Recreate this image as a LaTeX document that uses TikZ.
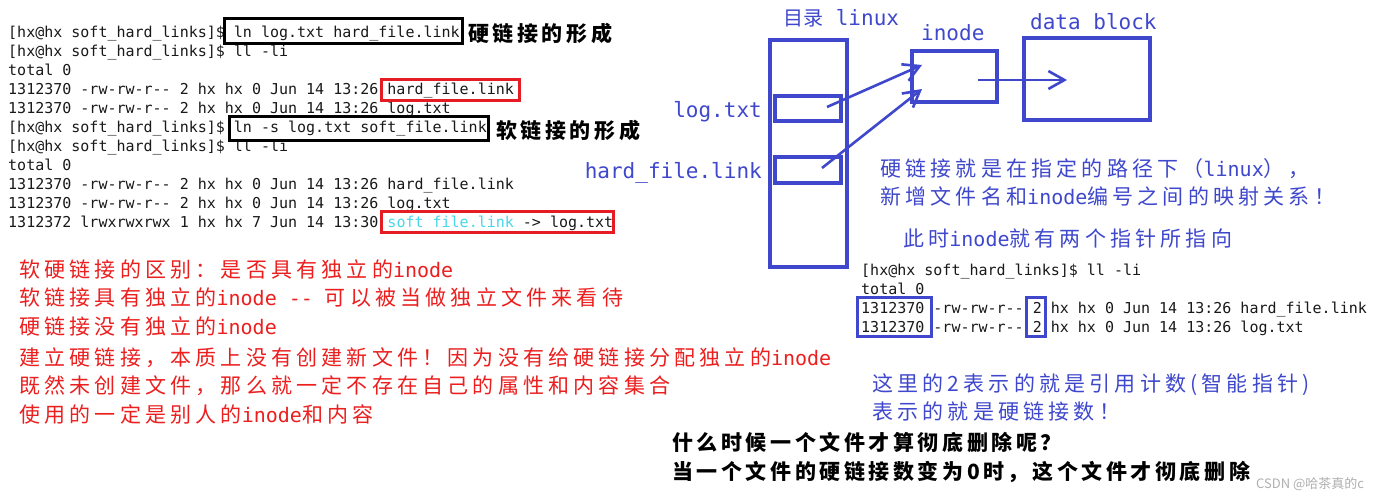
\documentclass[tikz,border=0pt]{standalone}
\usepackage{fontspec}
\setmainfont{DejaVu Sans Mono}
\newfontfamily\mono{DejaVu Sans Mono}
\newfontfamily\cjk[LetterSpace=17]{Noto Sans CJK SC}
\newfontfamily\cjkwide[LetterSpace=20]{Noto Sans CJK SC}
\newfontfamily\cjkplain{Noto Sans CJK SC}
\newcommand\latn[1]{{\mono\fontsize{20}{24}\selectfont #1}}
\definecolor{termfg}{RGB}{25,25,25}
\definecolor{boxred}{RGB}{230,28,36}
\definecolor{softcyan}{RGB}{70,215,235}
\definecolor{paintblue}{RGB}{63,72,204}
\definecolor{notered}{RGB}{236,30,30}
\definecolor{wmgray}{RGB}{175,175,175}
\usetikzlibrary{arrows.meta}
\tikzset{
  term/.style={anchor=base west, inner sep=0pt, text=termfg, font=\mono\fontsize{15}{18}\selectfont},
  redtext/.style={anchor=base west, inner sep=0pt, text=notered, font=\cjkwide\fontsize{21}{25}\selectfont},
  bluetext/.style={anchor=base west, inner sep=0pt, text=paintblue, font=\cjkwide\fontsize{21}{25}\selectfont},
  blacktext/.style={anchor=base west, inner sep=0pt, text=black, font=\cjk\bfseries\fontsize{21}{25}\selectfont},
  bluelabel/.style={inner sep=0pt, text=paintblue, font=\mono\fontsize{21}{25}\selectfont},
  blackframe/.style={draw=black, line width=3pt, inner sep=0pt},
  redframe/.style={draw=boxred, line width=3pt, inner sep=0pt},
  blueframe/.style={draw=paintblue, line width=3.3pt, inner sep=0pt},
  bluearrow/.style={draw=paintblue, line width=2.6pt, -{Straight Barb[length=16pt,width=18pt,line width=2.6pt]}},
}
\begin{document}
\begin{tikzpicture}[x=1pt,y=-1pt]
\useasboundingbox[fill=white] (0,0) rectangle (1375,499);

% ---- left terminal ----
\node[term] (t1) at (8,37.5) {[hx@hx soft\_hard\_links]\$ ln log.txt hard\_file.link};
\node[term] (t2) at (8,56.5) {[hx@hx soft\_hard\_links]\$ ll -li};
\node[term] (t3) at (8,75.5) {total 0};
\node[term] (t4) at (8,94.5) {1312370 -rw-rw-r-- 2 hx hx 0 Jun 14 13:26 hard\_file.link};
\node[term] (t5) at (8,113.5) {1312370 -rw-rw-r-- 2 hx hx 0 Jun 14 13:26 log.txt};
\node[term] (t6) at (8,132.5) {[hx@hx soft\_hard\_links]\$ ln -s log.txt soft\_file.link};
\node[term] (t7) at (8,151.5) {[hx@hx soft\_hard\_links]\$ ll -li};
\node[term] (t8) at (8,170.5) {total 0};
\node[term] (t9) at (8,189.5) {1312370 -rw-rw-r-- 2 hx hx 0 Jun 14 13:26 hard\_file.link};
\node[term] (t10) at (8,208.5) {1312370 -rw-rw-r-- 2 hx hx 0 Jun 14 13:26 log.txt};
\node[term] (t11) at (8,227.5) {1312372 lrwxrwxrwx 1 hx hx 7 Jun 14 13:30 \textcolor{softcyan}{soft file.link} -> log.txt};

\node[blackframe, minimum width=238, minimum height=25] (cmd1) at (343,30.5) {};
\node[redframe, minimum width=138, minimum height=21] (hl1) at (450,89.5) {};
\node[blackframe, minimum width=259, minimum height=24] (cmd2) at (358.5,128) {};
\node[redframe, minimum width=232, minimum height=21] (hl2) at (497,221.5) {};

\node[blacktext] (f1) at (468,41) {硬链接的形成};
\node[blacktext] (f2) at (496,138) {软链接的形成};

% ---- red notes ----
\node[redtext] (r1) at (19,277) {软硬链接的区别：是否具有独立的\latn{inode}};
\node[redtext] (r2) at (19,305) {软链接具有独立的\latn{inode -- }可以被当做独立文件来看待};
\node[redtext] (r3) at (19,334) {硬链接没有独立的\latn{inode}};
\node[redtext] (r4) at (19,365) {建立硬链接，本质上没有创建新文件！因为没有给硬链接分配独立的\latn{inode}};
\node[redtext] (r5) at (19,393) {既然未创建文件，那么就一定不存在自己的属性和内容集合};
\node[redtext] (r6) at (19,422) {使用的一定是别人的\latn{inode}和内容};

% ---- diagram ----
\node[anchor=base west, inner sep=0pt, text=paintblue] (dirlabel) at (783,25) {{\cjkplain\fontsize{20}{24}\selectfont 目录}{\mono\fontsize{21}{25}\selectfont\ linux}};
\node[blueframe, minimum width=77, minimum height=227] (dir) at (808.5,153.5) {};
\node[blueframe, minimum width=66, minimum height=25] (logbox) at (808,108.5) {};
\node[blueframe, minimum width=66, minimum height=26] (hardbox) at (808,170) {};
\node[bluelabel, anchor=base east] (loglabel) at (762,117) {log.txt};
\node[bluelabel, anchor=base east] (hardlabel) at (762,178) {hard\_file.link};
\node[bluelabel, anchor=base west] (inodelabel) at (921,40) {inode};
\node[blueframe, minimum width=85, minimum height=51] (inodebox) at (954.5,76.5) {};
\node[bluelabel, anchor=base west] (datalabel) at (1030,29) {data block};
\node[blueframe, minimum width=126, minimum height=82] (databox) at (1087,79) {};

\coordinate (a1s) at (827,107);
\coordinate (a1e) at (922,65);
\coordinate (a2s) at (822,168);
\coordinate (a2e) at (922,89);
\coordinate (a3s) at (978,80);
\coordinate (a3e) at (1067,80);
\draw[bluearrow] (a1s) -- (a1e);
\draw[bluearrow] (a2s) -- (a2e);
\draw[bluearrow] (a3s) -- (a3e);

\node[bluetext] (b1) at (880,176) {硬链接就是在指定的路径下（\latn{linux}），};
\node[bluetext] (b2) at (880,204) {新增文件名和\latn{inode}编号之间的映射关系！};
\node[bluetext] (b3) at (903,246) {此时\latn{inode}就有两个指针所指向};

% ---- right terminal ----
\node[term] (u1) at (861,275.5) {[hx@hx soft\_hard\_links]\$ ll -li};
\node[term] (u2) at (861,294.5) {total 0};
\node[term] (u3) at (861,313.5) {1312370 -rw-rw-r-- 2 hx hx 0 Jun 14 13:26 hard\_file.link};
\node[term] (u4) at (861,332.5) {1312370 -rw-rw-r-- 2 hx hx 0 Jun 14 13:26 log.txt};
\node[blueframe, minimum width=74, minimum height=39] (inobox) at (894.5,317) {};
\node[blueframe, minimum width=19, minimum height=39] (cntbox) at (1036,317) {};

\node[bluetext] (b4) at (872,391) {这里的2表示的就是引用计数(智能指针)};
\node[bluetext] (b5) at (872,419) {表示的就是硬链接数！};

% ---- bottom black ----
\node[blacktext] (k1) at (672,450) {什么时候一个文件才算彻底删除呢？};
\node[blacktext] (k2) at (672,479) {当一个文件的硬链接数变为0时，这个文件才彻底删除};

\node[anchor=base west, inner sep=0pt, text=wmgray, font=\cjkplain\fontsize{13}{16}\selectfont] (wm) at (1256,488) {CSDN @哈茶真的c};
\end{tikzpicture}
\end{document}
